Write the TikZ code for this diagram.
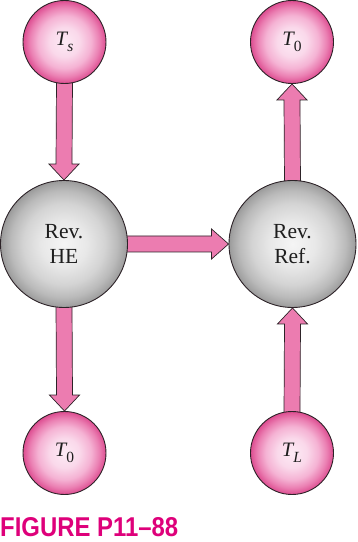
\documentclass[tikz,border=0pt]{standalone}
\usepackage{fontspec}
\setmainfont{Liberation Serif}
\newfontfamily\capfont{Liberation Sans}
\usetikzlibrary{calc}
\pgfdeclarelayer{bg}
\pgfsetlayers{bg,main}
\definecolor{arrowfill}{RGB}{236,124,176}
\definecolor{edgecol}{RGB}{45,35,40}
\definecolor{txtcol}{RGB}{30,30,30}
\definecolor{capcol}{RGB}{222,0,122}
\pgfdeclareradialshading{pinkball}{\pgfpoint{0bp}{0bp}}{%
  rgb(0bp)=(0.99,0.92,0.96); rgb(9bp)=(0.98,0.85,0.92); rgb(16bp)=(0.96,0.70,0.83);
  rgb(21bp)=(0.92,0.50,0.70); rgb(24bp)=(0.88,0.35,0.60); rgb(25bp)=(0.86,0.30,0.56);
  rgb(50bp)=(0.86,0.30,0.56)}
\pgfdeclareradialshading{grayball}{\pgfpoint{0bp}{0bp}}{%
  rgb(0bp)=(0.96,0.96,0.96); rgb(9bp)=(0.91,0.91,0.91); rgb(16bp)=(0.83,0.83,0.83);
  rgb(21bp)=(0.73,0.73,0.73); rgb(24bp)=(0.64,0.64,0.64); rgb(25bp)=(0.60,0.60,0.60);
  rgb(50bp)=(0.60,0.60,0.60)}
\tikzset{
  res/.style={circle, draw=edgecol, line width=0.9pt, inner sep=0pt,
    minimum size=83pt, shading=pinkball, text=txtcol,
    font=\fontsize{20.5}{24}\selectfont},
  dev/.style={circle, draw=edgecol, line width=0.9pt, inner sep=0pt,
    minimum size=127pt, shading=grayball, text=txtcol,
    align=center, font=\fontsize{21.5}{24.5}\selectfont},
  fat/.style={fill=arrowfill, draw=edgecol, line width=0.7pt, line join=miter}
}
\newcommand{\sub}[1]{\raisebox{-0.28em}{\fontsize{15.5}{15.5}\selectfont #1}}
\begin{document}
\begin{tikzpicture}[x=1pt,y=1pt]
\useasboundingbox (0,0) rectangle (357,542);
\node[res] (Ts) at (64.5,500) {\textit{T}\kern-1pt\sub{\textit{s}}};
\node[res] (T0a) at (292,500) {\textit{T}\kern-1pt\sub{0}};
\node[dev] (HE) at (64,298) {Rev.\\HE};
\node[dev] (Ref) at (292.5,298) {Rev.\\Ref.};
\node[res] (T0b) at (64.5,89) {\textit{T}\kern-1pt\sub{0}};
\node[res] (TL) at (292,89) {\textit{T}\kern-1pt\sub{\textit{L}}};
\begin{pgfonlayer}{bg}
% Ts -> HE (down)
\draw[fat] ($(Ts.south)+(-8,3)$) -- ($(HE.north)+(-8,16)$) -- ($(HE.north)+(-15,16)$)
  -- (HE.north) -- ($(HE.north)+(15,16)$) -- ($(HE.north)+(8,16)$) -- ($(Ts.south)+(8,3)$) -- cycle;
% HE -> T0b (down)
\draw[fat] ($(HE.south)+(-8,3)$) -- ($(T0b.north)+(-8,16)$) -- ($(T0b.north)+(-15,16)$)
  -- (T0b.north) -- ($(T0b.north)+(15,16)$) -- ($(T0b.north)+(8,16)$) -- ($(HE.south)+(8,3)$) -- cycle;
% Ref -> T0a (up)
\draw[fat] ($(Ref.north)+(-8,-3)$) -- ($(T0a.south)+(-8,-16)$) -- ($(T0a.south)+(-15,-16)$)
  -- (T0a.south) -- ($(T0a.south)+(15,-16)$) -- ($(T0a.south)+(8,-16)$) -- ($(Ref.north)+(8,-3)$) -- cycle;
% TL -> Ref (up)
\draw[fat] ($(TL.north)+(-8,-3)$) -- ($(Ref.south)+(-8,-16)$) -- ($(Ref.south)+(-15,-16)$)
  -- (Ref.south) -- ($(Ref.south)+(15,-16)$) -- ($(Ref.south)+(8,-16)$) -- ($(TL.north)+(8,-3)$) -- cycle;
% HE -> Ref (right)
\draw[fat] ($(HE.east)+(-3,-8)$) -- ($(Ref.west)+(-17,-8)$) -- ($(Ref.west)+(-17,-15)$)
  -- (Ref.west) -- ($(Ref.west)+(-17,15)$) -- ($(Ref.west)+(-17,8)$) -- ($(HE.east)+(-3,8)$) -- cycle;
\end{pgfonlayer}
\node[anchor=south west, inner sep=0pt, text=capcol] (cap) at (0,5)
  {\resizebox{178pt}{19pt}{\capfont\bfseries FIGURE P11–88}};
\end{tikzpicture}
\end{document}
